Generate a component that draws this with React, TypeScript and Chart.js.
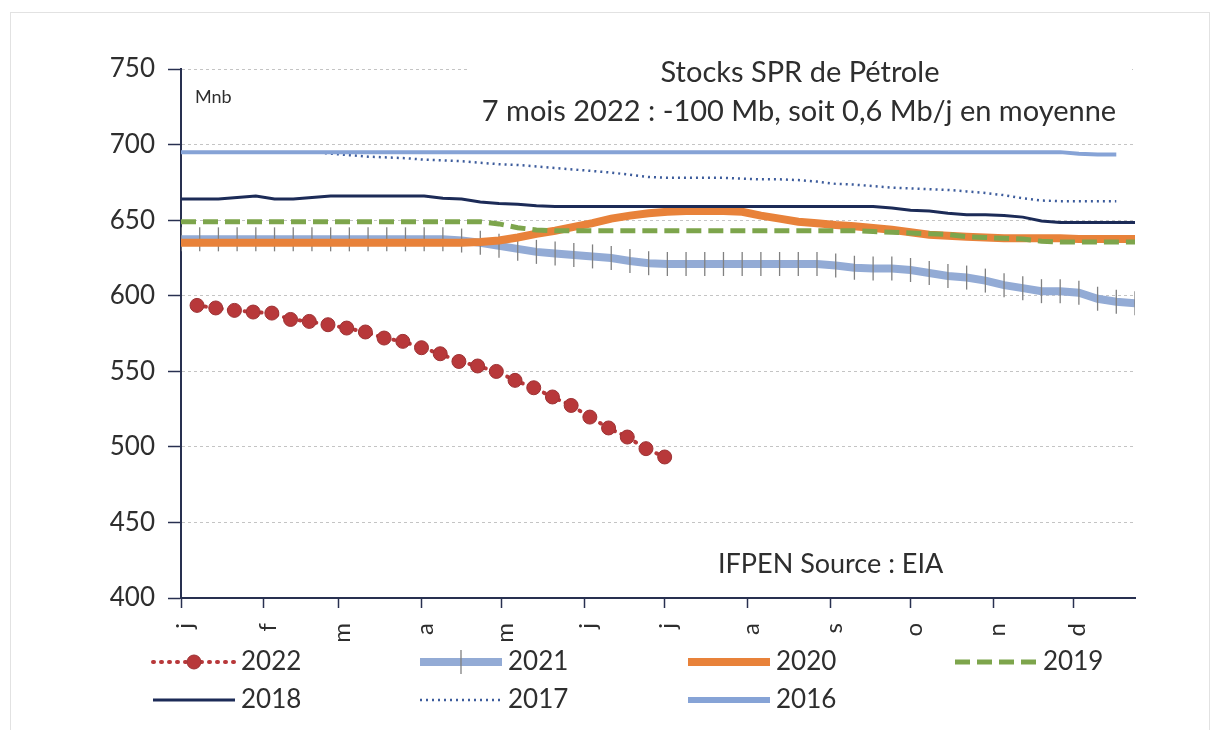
import React, { useEffect, useRef } from "react";
import { Chart, registerables } from "chart.js";

Chart.register(...registerables);

const FONT = "Lato, 'Open Sans', sans-serif";
const TEXT = "#2e2e2e";
const AXIS = "#283050";

// x axis: day of year (0 = 1 Jan)
const monthTicks = [0, 31, 59, 90, 120, 151, 181, 212, 243, 273, 304, 334];
const monthLabels = ["j", "f", "m", "a", "m", "j", "j", "a", "s", "o", "n", "d"];
const yMin = 400;
const yMax = 750;
const yStep = 50;

// week-ending days
const weeksHist = [0, 7, 14, 21, 28, 35, 42, 49, 56, 63, 70, 77, 84, 91, 98, 105, 112, 119, 126, 133, 140, 147, 154, 161, 168, 175, 182, 189, 196, 203, 210, 217, 224, 231, 238, 245, 252, 259, 266, 273, 280, 287, 294, 301, 308, 315, 322, 329, 336, 343, 350, 357];
const weeks2022 = [6, 13, 20, 27, 34, 41, 48, 55, 62, 69, 76, 83, 90, 97, 104, 111, 118, 125, 132, 139, 146, 153, 160, 167, 174, 181];

const v2022 = [593.6, 591.9, 590.3, 589.2, 588.5, 584.3, 583.0, 580.8, 578.6, 576.0, 572.0, 569.8, 565.6, 561.6, 556.5, 553.5, 549.9, 544.0, 539.1, 533.0, 527.4, 519.7, 512.5, 506.5, 498.8, 493.3];
const v2021 = [637.3, 637.3, 637.3, 637.3, 637.3, 637.3, 637.3, 637.3, 637.3, 637.3, 637.3, 637.3, 637.3, 637.3, 637.3, 636.5, 635, 633, 631, 629, 628, 627, 626, 625, 623, 621.5, 621, 621, 621, 621, 621, 621, 621, 621, 621, 620, 618.5, 618, 618, 617, 615, 613, 612, 610, 607, 605, 603, 603, 602, 598, 596, 595];
const v2020 = [635, 635, 635, 635, 635, 635, 635, 635, 635, 635, 635, 635, 635, 635, 635, 635, 635.5, 636.5, 638.5, 641, 643, 645.5, 648, 651, 653, 654.5, 655.5, 656, 656, 656, 655.5, 653, 651, 649, 648, 646.8, 646, 644.8, 643.7, 642, 640.4, 639.6, 639, 638.5, 638, 638, 638, 638, 637.5, 637.5, 637.5, 637.5];
const v2019 = [649, 649, 649, 649, 649, 649, 649, 649, 649, 649, 649, 649, 649, 649, 649, 649, 649, 647.5, 645, 643.5, 643, 643, 643, 643, 643, 643, 643, 643, 643, 643, 643, 643, 643, 643, 643, 643, 643, 642.5, 642, 641.5, 641, 640.5, 639, 638.5, 638, 637.5, 636, 635.5, 635.5, 635.5, 635.5, 635.5];
const v2018 = [664, 664, 664, 665, 666, 664, 664, 665, 666, 666, 666, 666, 666, 666, 664.5, 664, 662, 661, 660.5, 659.5, 659, 659, 659, 659, 659, 659, 659, 659, 659, 659, 659, 659, 659, 659, 659, 659, 659, 659, 658, 656.5, 656, 654.5, 653.5, 653.5, 653, 652, 649.5, 648.5, 648.5, 648.5, 648.5, 648.5];
const v2017 = [695, 695, 695, 695, 695, 695, 695, 695, 694, 693, 692, 691.5, 691, 690, 689.5, 689, 688, 687, 686.5, 685.5, 684.5, 683.5, 682.5, 681.5, 680, 678.5, 678, 678, 678, 678, 677.5, 677, 677, 676.5, 675.5, 674, 673.5, 672.5, 671.5, 671, 670.5, 670, 669, 668, 666.5, 664.5, 663, 662.5, 662.5, 662.5, 662.5];
const v2016 = [695, 695, 695, 695, 695, 695, 695, 695, 695, 695, 695, 695, 695, 695, 695, 695, 695, 695, 695, 695, 695, 695, 695, 695, 695, 695, 695, 695, 695, 695, 695, 695, 695, 695, 695, 695, 695, 695, 695, 695, 695, 695, 695, 695, 695, 695, 695, 695, 694, 693.5, 693.5];

const seriesNames = ["2022", "2021", "2020", "2019", "2018", "2017", "2016"];
const titleLines = ["Stocks SPR de Pétrole", "7 mois 2022 : -100 Mb, soit 0,6 Mb/j en moyenne"];
const unitLabel = "Mnb";
const sourceLabel = "IFPEN Source : EIA";

function pts(days: number[], vals: number[]) {
  return vals.map((v, i) => ({ x: days[i], y: v }));
}

const overlayPlugin = {
  id: "overlay",
  afterDraw(chart: any) {
    const { ctx } = chart;
    ctx.save();
    // title box (white background)
    ctx.fillStyle = "#ffffff";
    ctx.fillRect(462, 38, 662, 90);
    ctx.fillStyle = TEXT;
    ctx.textAlign = "center";
    ctx.textBaseline = "middle";
    ctx.font = `29px ${FONT}`;
    ctx.fillText(titleLines[0], 792, 65);
    ctx.fillText(titleLines[1], 791, 104);
    ctx.textAlign = "left";
    ctx.font = `18px ${FONT}`;
    ctx.fillText(unitLabel, 187, 89);
    ctx.font = `27px ${FONT}`;
    ctx.fillText(sourceLabel, 710, 556);

    // legend
    const cols = [145, 412, 680, 947];
    const rows = [654, 692];
    chart.data.datasets.forEach((ds: any, i: number) => {
      const x0 = cols[i % 4];
      const y = rows[Math.floor(i / 4)];
      const x1 = x0 + 82;
      ctx.save();
      ctx.strokeStyle = ds.borderColor;
      ctx.lineWidth = ds.legendWidth ?? ds.borderWidth;
      ctx.setLineDash(ds.borderDash || []);
      ctx.lineCap = ds.borderCapStyle || "butt";
      ctx.beginPath();
      ctx.moveTo(x0, y);
      ctx.lineTo(x1, y);
      ctx.stroke();
      ctx.setLineDash([]);
      const cx = (x0 + x1) / 2;
      if (ds.pointStyle === "circle" && ds.pointRadius > 0) {
        ctx.beginPath();
        ctx.arc(cx, y, ds.pointRadius, 0, Math.PI * 2);
        ctx.fillStyle = ds.pointBackgroundColor;
        ctx.fill();
        ctx.lineWidth = ds.pointBorderWidth;
        ctx.strokeStyle = ds.pointBorderColor;
        ctx.stroke();
      } else if (ds.pointStyle === "line" && ds.pointRadius > 0) {
        ctx.beginPath();
        ctx.moveTo(cx, y - ds.pointRadius);
        ctx.lineTo(cx, y + ds.pointRadius);
        ctx.lineWidth = ds.pointBorderWidth;
        ctx.strokeStyle = ds.pointBorderColor;
        ctx.stroke();
      }
      ctx.restore();
      ctx.fillStyle = TEXT;
      ctx.font = `26px ${FONT}`;
      ctx.textAlign = "left";
      ctx.textBaseline = "middle";
      ctx.fillText(ds.label, x0 + 88, y);
    });
    ctx.restore();
  },
};

export default function App() {
  const canvasRef = useRef<HTMLCanvasElement | null>(null);

  useEffect(() => {
    if (!canvasRef.current) return;
    const base = { fill: false, tension: 0, pointRadius: 0, pointHoverRadius: 0 };
    const chart = new Chart(canvasRef.current, {
      type: "line",
      data: {
        datasets: [
          {
            ...base,
            label: seriesNames[0],
            data: pts(weeks2022, v2022),
            borderColor: "#b8383a",
            borderWidth: 4,
            borderDash: [1, 7],
            borderCapStyle: "round",
            pointStyle: "circle",
            pointRadius: 7,
            pointBackgroundColor: "#b8383a",
            pointBorderColor: "#9c3234",
            pointBorderWidth: 1,
            order: 0,
          },
          {
            ...base,
            label: seriesNames[1],
            data: pts(weeksHist, v2021),
            borderColor: "#93abd5",
            borderWidth: 8,
            pointStyle: "line",
            pointRotation: 90,
            pointRadius: 12,
            pointBorderColor: "#808080",
            pointBorderWidth: 1.3,
            order: 7,
          },
          {
            ...base,
            label: seriesNames[2],
            data: pts(weeksHist, v2020),
            borderColor: "#e8823a",
            borderWidth: 8,
            order: 6,
          },
          {
            ...base,
            label: seriesNames[3],
            data: pts(weeksHist, v2019),
            borderColor: "#7da54c",
            borderWidth: 5,
            borderDash: [15, 7],
            order: 5,
          },
          {
            ...base,
            label: seriesNames[4],
            data: pts(weeksHist, v2018),
            borderColor: "#1c2b57",
            borderWidth: 3,
            order: 4,
          },
          {
            ...base,
            label: seriesNames[5],
            data: pts(weeksHist, v2017),
            borderColor: "#3d5c9c",
            borderWidth: 2.5,
            borderDash: [2, 4],
            order: 3,
          },
          {
            ...base,
            label: seriesNames[6],
            data: pts(weeksHist, v2016),
            borderColor: "#86a3d6",
            borderWidth: 4,
            legendWidth: 6,
            order: 2,
          },
        ] as any,
      },
      options: {
        animation: false,
        responsive: false,
        events: [],
        layout: { padding: { top: 61, right: 75, left: 0, bottom: 0 } },
        plugins: {
          legend: { display: false },
          title: { display: false },
          tooltip: { enabled: false },
        },
        scales: {
          x: {
            type: "linear",
            min: 0,
            max: 357,
            afterBuildTicks: (scale: any) => {
              scale.ticks = monthTicks.map((v) => ({ value: v }));
            },
            afterFit: (scale: any) => {
              scale.height = 132;
            },
            ticks: {
              autoSkip: false,
              minRotation: 90,
              maxRotation: 90,
              padding: 15,
              labelOffset: 4,
              color: TEXT,
              font: { family: FONT, size: 24 },
              callback: (_v: any, i: number) => monthLabels[i],
            },
            grid: {
              drawOnChartArea: false,
              drawTicks: true,
              tickLength: 10,
              tickColor: AXIS,
              tickWidth: 1.5,
            },
            border: { color: AXIS, width: 2 },
          },
          y: {
            type: "linear",
            min: yMin,
            max: yMax,
            afterFit: (scale: any) => {
              scale.width = 173;
            },
            ticks: {
              stepSize: yStep,
              padding: 13,
              color: TEXT,
              font: { family: FONT, size: 26 },
            },
            grid: {
              color: "#c4c4c4",
              lineWidth: 1,
              tickLength: 13,
              tickColor: AXIS,
              tickWidth: 1.5,
            },
            border: { color: AXIS, width: 2, dash: [3, 3] },
          },
        },
      } as any,
      plugins: [overlayPlugin as any],
    });
    return () => chart.destroy();
  }, []);

  return (
    <div style={{ position: "relative", width: 1202, height: 722, overflow: "hidden", background: "#fff" }}>
      <canvas ref={canvasRef} width={1202} height={722} style={{ display: "block" }} />
      <div
        style={{
          position: "absolute",
          left: 2,
          top: 4,
          width: 1198,
          height: 760,
          border: "1px solid #e2e2e2",
          pointerEvents: "none",
        }}
      />
    </div>
  );
}
